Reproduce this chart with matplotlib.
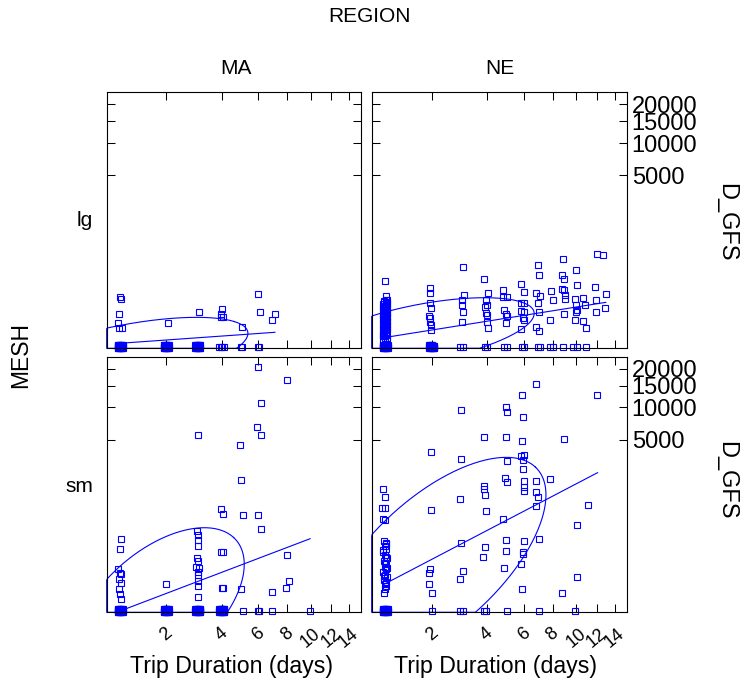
import numpy as np
import matplotlib
matplotlib.use('Agg')
from matplotlib import pyplot as plt

plt.rcParams['font.family'] = ['Liberation Sans', 'DejaVu Sans']

# ---- data: trip duration (days) and D_GFS per panel
ma_lg_days = [1.0, 1.01, 0.98, 0.97, 0.98, 1.025, 2.04, 3.07, 4.02, 3.96, 3.97, 4.08, 5.03, 5.97, 6.07, 7.1, 6.89]
ma_lg_dgfs = [34.5, 30, 6.4, 1.93, 0.755, 0.755, 1.93, 8.1, 11.7, 6.6, 4.33, 4.33, 0.93, 45.7, 8.7, 6.87, 2.95]

ma_sm_days = [5.97, 8.0, 6.14, 5.89, 6.14, 3.03, 4.92, 4.98, 3.97, 4.08, 5.07, 5.96, 6.13, 1.01, 0.99,
              2.98, 3.0, 3.02, 3.0, 2.97, 3.0, 2.95, 3.05, 3.0, 3.0, 3.0, 3.0, 3.0, 3.97, 4.08, 4.03, 4.06,
              5.0, 8.0, 8.15, 7.9, 6.89, 1.98, 0.97, 1.0, 1.01, 0.98, 1.01, 0.98, 1.0, 1.02,
              5.1, 6.0, 6.03, 6.9, 9.95]
ma_sm_dgfs = [20600, 16420, 10870, 6600, 5525, 5575, 4370, 1690, 636, 515, 500, 480, 255, 157, 84,
              231, 194, 142, 100, 46, 35.4, 21.9, 20, 13.6, 9.4, 4.5, 2.16, 0.2, 68.8, 68.8, 1.65, 1.65,
              1.29, 55.8, 4.33, 1.65, 0.71, 2.81, 18.2, 11.3, 10.2, 5.6, 3.6, 1.38, 0.42, 0.1,
              0, 0, 0, 0, 0]

ne_lg_days = [0.99, 1.01,
              0.965, 1.0, 1.035, 0.98, 1.02, 0.97, 1.005, 1.03, 0.985, 1.015,
              0.965, 1.0, 1.035, 0.98, 1.02, 0.97, 1.005, 1.03, 0.985, 1.015,
              0.965, 1.0, 1.035, 0.98, 1.02, 0.97, 1.005, 1.03, 0.985, 1.015,
              0.965, 1.0, 1.035, 0.98, 1.02, 0.97, 1.005, 1.03, 0.985, 1.015,
              1.035, 0.965, 1.02, 0.975, 1.03, 0.97, 1.025, 0.98, 1.035, 0.965,
              1.03, 0.97, 1.035, 0.975, 1.025, 0.965, 1.03, 0.98, 1.035, 0.97,
              1.95, 1.96, 1.95, 1.97, 1.94, 1.96, 1.95, 1.97, 1.98,
              3.01, 3.05, 2.97, 2.96, 3.0, 2.97,
              3.89, 4.05, 3.96, 3.99, 3.92, 3.96, 3.99, 4.0, 4.03,
              4.81, 4.81, 4.99, 4.86, 4.94, 4.99, 4.94,
              5.8, 6.0, 5.85, 6.0, 5.85, 6.0, 5.97, 6.03, 5.8,
              6.9, 6.99, 6.77, 7.06, 6.95, 6.99, 6.77, 6.99,
              7.91, 8.06, 7.8,
              8.81, 8.73, 8.92, 8.73, 8.92, 9.0, 9.05, 8.92,
              9.97, 10.03, 9.9, 9.95, 10.03, 9.95, 9.85,
              10.66, 10.8, 10.66, 10.95,
              12.0, 12.7, 11.84, 12.98, 11.94, 11.9, 12.87,
              2.9, 3.0, 3.91, 3.99, 4.86, 4.99, 5.86, 6.0, 6.9, 7.06, 7.8, 8.0, 8.81, 9.73, 10.03, 10.9]
ne_lg_dgfs = [110, 39.3,
              0.015, 0.026, 0.041, 0.0625, 0.0915, 0.13, 0.179, 0.24, 0.316, 0.41,
              0.522, 0.656, 0.815, 1.0, 1.22, 1.46, 1.75, 2.07, 2.44, 2.86,
              3.32, 3.84, 4.42, 5.06, 5.77, 6.55, 7.41, 8.35, 9.38, 10.5,
              11.7, 13.0, 14.5, 16, 17.7, 19.4, 21.4, 23.4, 25.6, 28,
              0.03, 0.08, 0.2, 0.36, 0.6, 0.9, 1.33, 1.9, 2.65, 3.6,
              4.7, 6.1, 7.9, 9.9, 12.3, 15.2, 18.5, 22.4, 26.8, 0.11,
              70.4, 47, 20.5, 12.6, 5.16, 4.12, 2.28, 1.29, 0.45,
              238, 42.5, 27.5, 17.5, 8.7, 2.05,
              119.5, 47, 27.5, 17.5, 14.9, 7.2, 5.86, 2.28, 0.66,
              59.9, 36.3, 36.3, 10.5, 6.36, 5.16, 1.94,
              87.7, 51.9, 21.8, 20.5, 9.4, 8.1, 3.75, 2.95, 0.57,
              258, 153, 47, 39.3, 21.8, 8.7, 0.81, 0.38,
              57, 27.5, 2.95,
              343, 153, 121.8, 64.2, 59.9, 41.4, 30, 6.6,
              200.7, 84, 30, 17.5, 10.5, 8.1, 2.95,
              33.5, 17.5, 2.66, 0.76,
              428, 410, 72, 43.6, 27.5, 8.7, 12.6,
              0, 0, 0, 0, 0, 0, 0, 0, 0, 0, 0, 0, 0, 0, 0, 0]

ne_sm_days = [6.77, 5.86, 12.05, 4.96, 4.99, 2.95, 5.92, 3.85, 4.96, 5.88, 8.9, 1.98, 2.95,
              5.8, 6.03, 5.92, 4.99, 5.97, 4.9, 4.99, 6.79, 7.8, 6.0, 6.0, 6.0, 3.89, 3.85, 3.91,
              6.79, 6.9, 2.9, 1.98, 3.94, 6.82, 11.1, 4.81, 10.06, 6.99, 4.96, 6.03, 2.95, 3.91,
              4.96, 5.97, 5.97, 3.84, 5.82, 4.86, 1.95, 1.92, 2.99, 2.9, 10.03, 1.92, 2.0, 5.86, 8.79,
              0.97, 1.0, 0.95, 1.0, 1.0, 0.97,
              0.98, 1.01, 0.99, 1.02, 0.97, 1.0, 1.03, 0.98, 1.01, 0.99, 1.02, 0.97, 1.0, 1.03, 0.98,
              1.01, 0.99, 1.02, 1.0, 0.98, 1.02, 0.97, 1.01, 0.99, 1.03, 0.98,
              2.0, 2.9, 3.0, 3.89, 3.96, 5.02, 6.99, 9.87]
ne_sm_dgfs = [15500, 12550, 12710, 10050, 9100, 9535, 8280, 5320, 5360, 4810, 5120, 3710, 3100,
              3324, 3468, 3020, 2914, 2383, 1817, 1592, 1677, 1763, 1642, 1374, 1191, 1433, 1301, 1065,
              1152, 981, 904, 597, 581, 689, 724, 410, 313, 153, 148, 134, 124, 98,
              74, 69, 61.5, 48, 27.6, 19.3, 17, 12.2, 14, 5.9, 7.5, 2.82, 0.57, 1.22, 0.57,
              1288, 981, 638, 655, 393, 416,
              140, 125, 105, 85, 70, 55, 45, 35, 28, 22, 17, 13, 10, 7.5, 5.5,
              4, 3, 2, 1.2, 0.6, 115, 78, 50, 31, 19, 8.5,
              0, 0, 0, 0, 0, 0, 0, 0]

# trips with D_GFS = 0 piled up on whole days: (days, number of trips)
ma_lg_zero = [(1, 44), (2, 33), (3, 22), (4, 4), (5, 2), (6, 2)]
ma_sm_zero = [(1, 44), (2, 33), (3, 44), (4, 44)]
ne_lg_zero = [(1, 44), (2, 40)]
ne_sm_zero = [(1, 44)]

# fitted line (root scale): x range in days, intercept at root(x)=1, slope
fit_days = {'ma_lg': (1.0, 7.1), 'ne_lg': (0.98, 13.0), 'ma_sm': (1.0, 9.95), 'ne_sm': (0.98, 12.1)}
fit_coef = {'ma_lg': (0.167, 0.852), 'ne_lg': (0.453, 1.918), 'ma_sm': (-0.015, 4.58), 'ne_sm': (1.327, 6.31)}
# ellipse (root scale): centre x, centre y, half-width, half-height, correlation
ell = {'ma_lg': (1.022, -0.424, 0.50, 1.864, 0.58),
       'ne_lg': (1.157, 0.684, 0.45, 1.72, 0.55),
       'ma_sm': (1.16, 0.244, 0.347, 3.836, 0.53),
       'ne_sm': (1.205, 2.41, 0.45, 5.13, 0.64)}

xticks = [2, 4, 6, 8, 10, 12, 14]
yticks = [5000, 10000, 15000, 20000]
regions = ['MA', 'NE']
meshes = ['lg', 'sm']


def fwd(v):
  v = np.asarray(v, dtype=float)
  return np.sign(v) * np.abs(v) ** 0.25


def inv(u):
  u = np.asarray(u, dtype=float)
  return np.sign(u) * np.abs(u) ** 4


xlim_r = (0.945, 1.984)
ylim_r = (-0.08, 12.49)
px_x = (xlim_r[1] - xlim_r[0]) / 255.0   # root units per pixel
px_y = (ylim_r[1] - ylim_r[0]) / 256.0

W, H = 742.0, 689.0
fig = plt.figure(figsize=(W / 100, H / 100), dpi=100)

panel_x = [(106.7, 361.0), (371.7, 626.7)]
panel_y = [(92.3, 348.3), (356.7, 612.3)]

data = {'ma_lg': (ma_lg_days, ma_lg_dgfs, ma_lg_zero),
        'ne_lg': (ne_lg_days, ne_lg_dgfs, ne_lg_zero),
        'ma_sm': (ma_sm_days, ma_sm_dgfs, ma_sm_zero),
        'ne_sm': (ne_sm_days, ne_sm_dgfs, ne_sm_zero)}

blue = '#0000ff'
mk = dict(linestyle='none', marker='s', markerfacecolor='none', markeredgecolor=blue,
          markersize=4.6, markeredgewidth=0.8, clip_on=False)

for r in range(2):
  for c in range(2):
    key = regions[c].lower() + '_' + meshes[r]
    x0, x1 = panel_x[c]
    y0, y1 = panel_y[r]
    ax = fig.add_axes([x0 / W, 1 - y1 / H, (x1 - x0) / W, (y1 - y0) / H])
    ax.set_xscale('function', functions=(fwd, inv))
    ax.set_yscale('function', functions=(fwd, inv))
    ax.set_xlim(inv(xlim_r[0]), inv(xlim_r[1]))
    ax.set_ylim(inv(ylim_r[0]), inv(ylim_r[1]))

    d, g, zeros = data[key]
    ax.plot(d, g, **mk)

    # zero piles, jittered like the original
    for day, n in zeros:
      ncol = min(n, 11)
      nrow = int(np.ceil(n / ncol))
      sx = min(2.5, 0.75 * (ncol - 1))
      dx = np.linspace(-sx, sx, ncol) if ncol > 1 else np.zeros(1)
      dy = np.linspace(-1.5, 1.5, nrow) if nrow > 1 else np.zeros(1)
      jx, jy = np.meshgrid(dx, dy)
      jx = jx.ravel()[:n]
      jy = jy.ravel()[:n]
      ax.plot(inv(fwd(day) + jx * px_x), inv(jy * px_y), **mk)

    # regression line
    xa, xb = fit_days[key]
    b0, b1 = fit_coef[key]
    xr = fwd([xa, xb])
    ax.plot([xa, xb], inv(b0 + b1 * (xr - 1.0)), color=blue, linewidth=0.8)

    # ellipse, squeezed onto the panel edges
    cx, cy, ea, eb, rho = ell[key]
    dd = np.arccos(rho)
    t = np.linspace(0, 2 * np.pi, 300)
    ex = np.clip(cx + ea * np.cos(t + dd / 2), xlim_r[0], xlim_r[1])
    ey = np.clip(cy + eb * np.cos(t - dd / 2), ylim_r[0], ylim_r[1])
    ax.plot(inv(ex), inv(ey), color=blue, linewidth=0.8, clip_on=False)

    ax.minorticks_off()
    ax.set_xticks(xticks)
    ax.set_yticks(yticks)
    ax.set_xticklabels([str(v) for v in xticks], rotation=40, fontsize=13)
    ax.set_yticklabels([str(v) for v in yticks], fontsize=17)
    ax.tick_params(direction='in', length=5.8, width=0.75, top=True, right=True,
                   labelbottom=(r == 1), labeltop=False, labelleft=False, labelright=(c == 1))
    ax.tick_params(axis='x', pad=9)
    ax.tick_params(axis='y', pad=3.6)
    for s in ax.spines.values():
      s.set_linewidth(0.8)

fig.text(369 / W, 1 - 16 / H, 'REGION', ha='center', va='center', fontsize=15)
fig.text(236 / W, 1 - 69 / H, 'MA', ha='center', va='center', fontsize=15)
fig.text(500 / W, 1 - 69 / H, 'NE', ha='center', va='center', fontsize=15)
fig.text(93 / W, 1 - 221 / H, 'lg', ha='right', va='center', fontsize=15)
fig.text(93 / W, 1 - 486 / H, 'sm', ha='right', va='center', fontsize=15)
fig.text(21 / W, 1 - 355 / H, 'MESH', rotation=90, ha='center', va='center', fontsize=16.5)
fig.text(726 / W, 1 - 222 / H, 'D_GFS', rotation=-90, ha='center', va='center', fontsize=17)
fig.text(726 / W, 1 - 480 / H, 'D_GFS', rotation=-90, ha='center', va='center', fontsize=17)
fig.text(231 / W, 1 - 667 / H, 'Trip Duration (days)', ha='center', va='center', fontsize=16.7)
fig.text(495 / W, 1 - 667 / H, 'Trip Duration (days)', ha='center', va='center', fontsize=16.7)

plt.savefig('out.png', dpi=100)
